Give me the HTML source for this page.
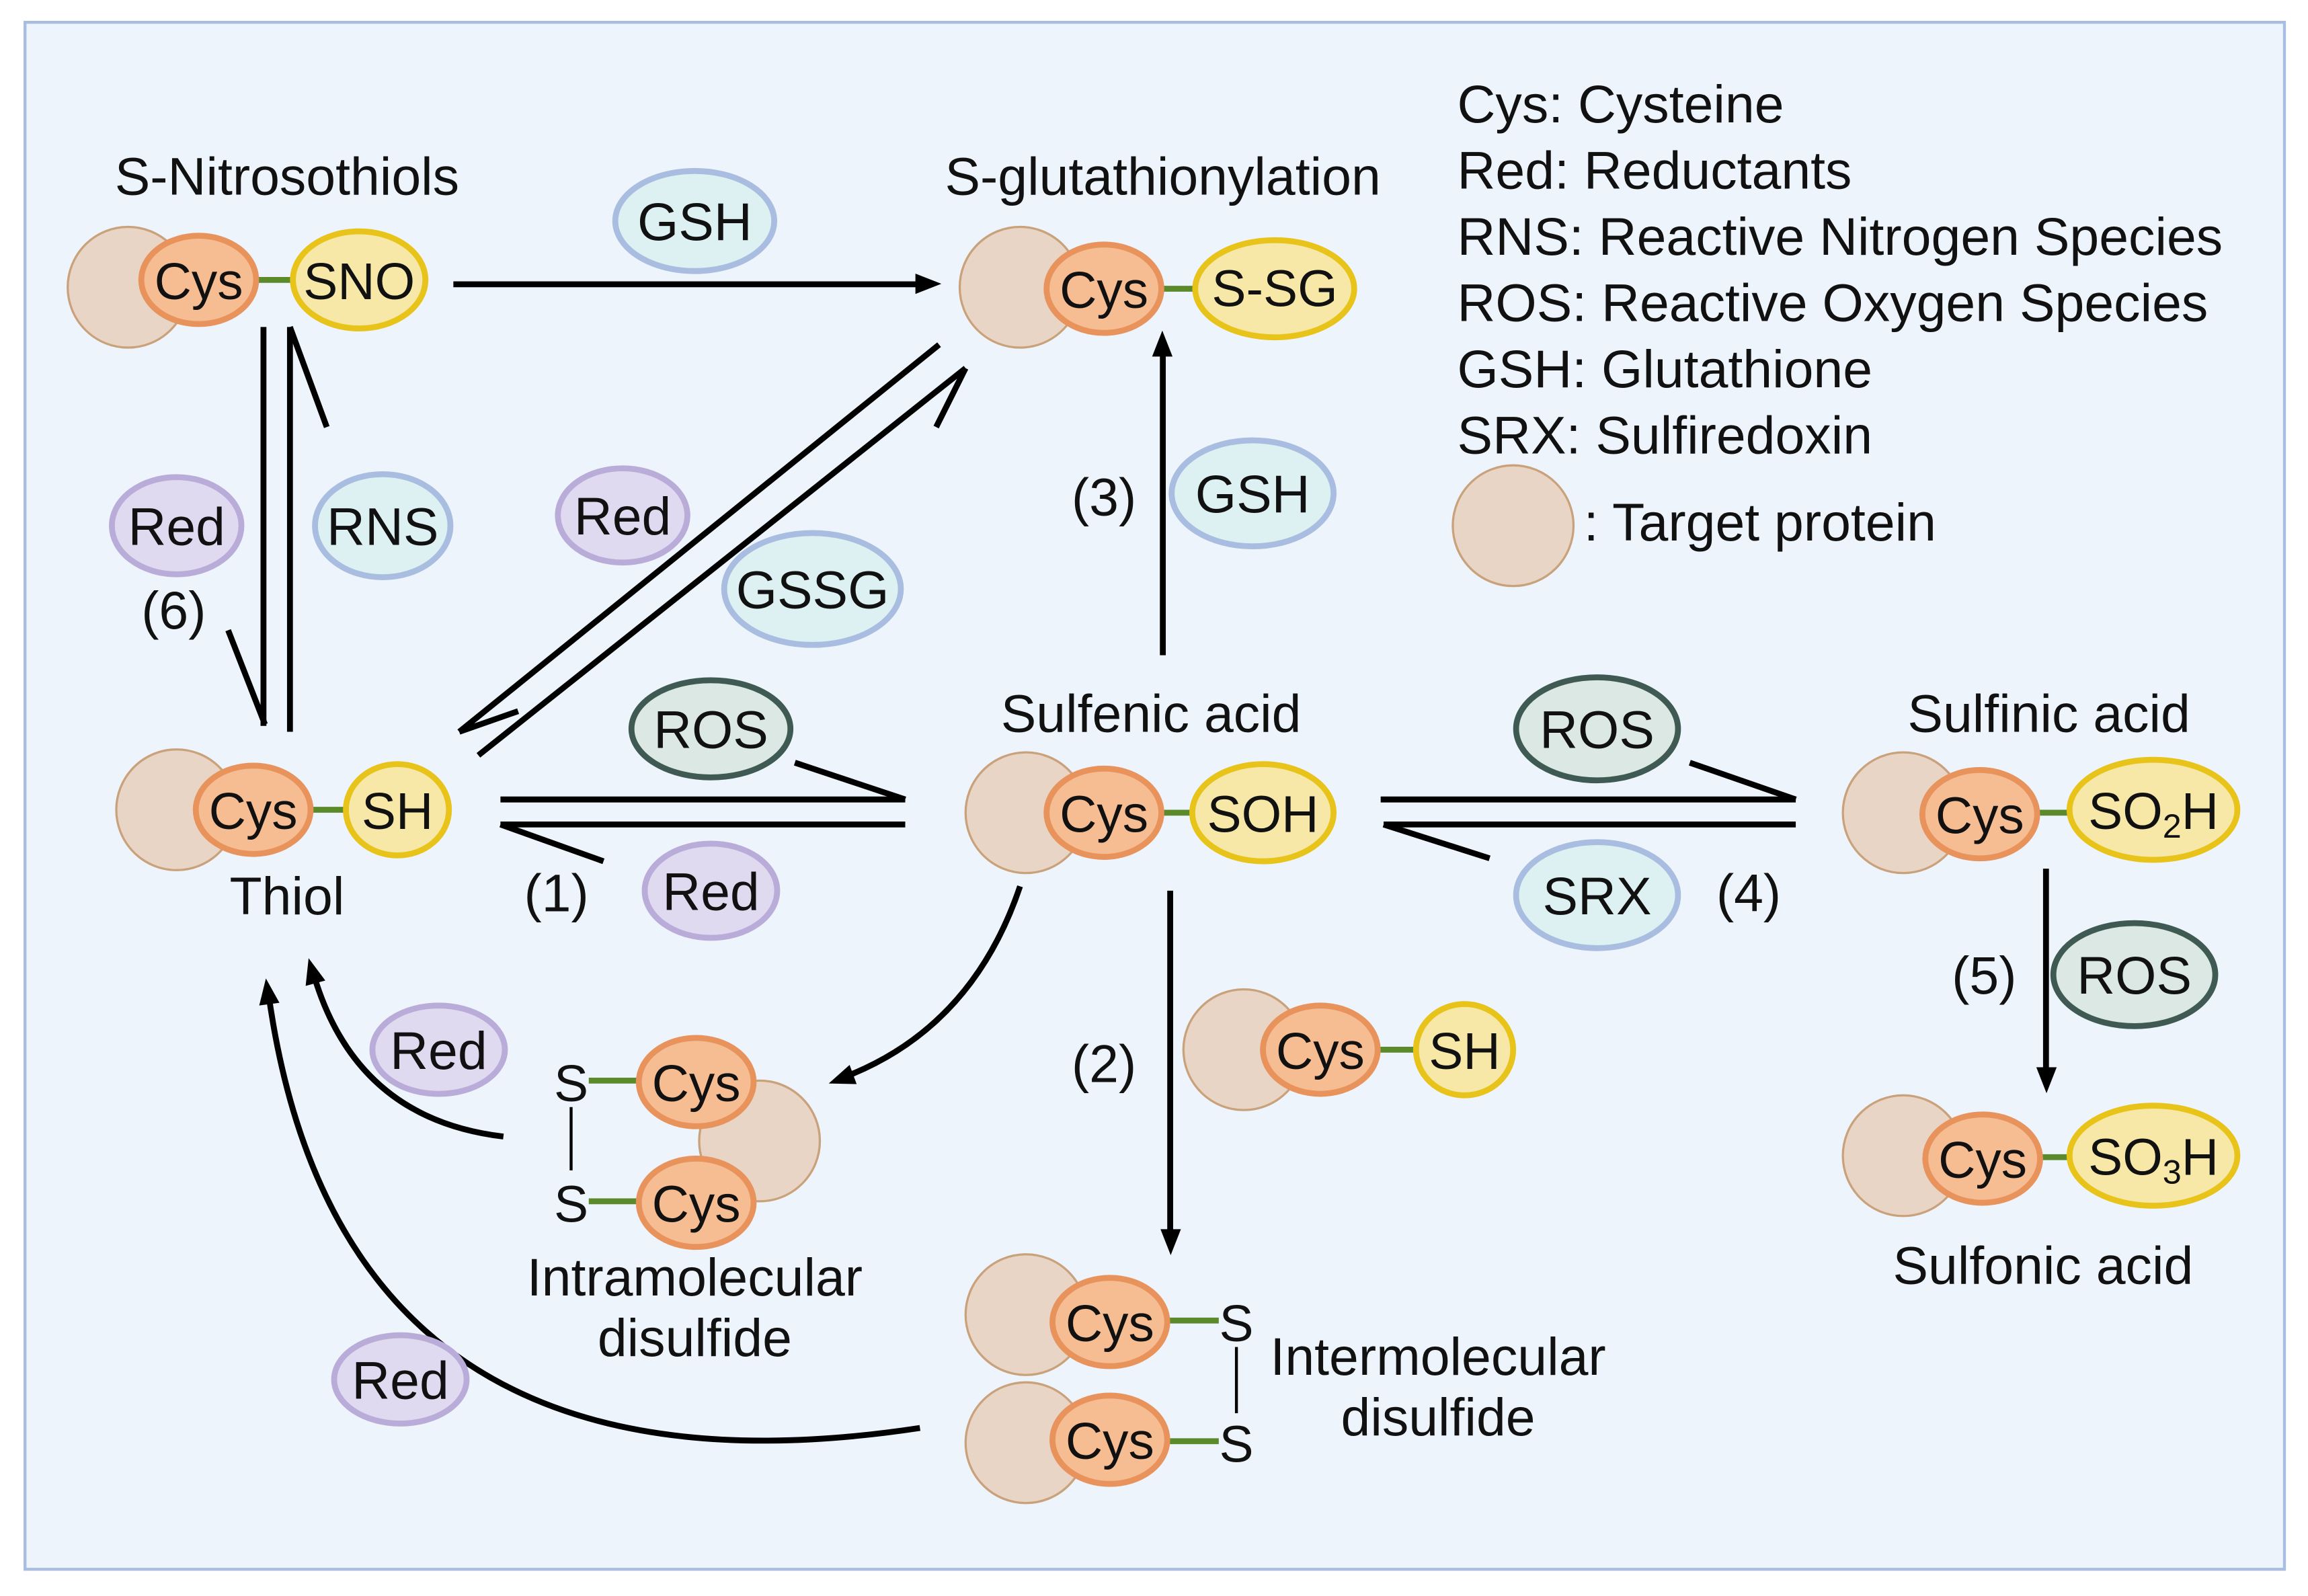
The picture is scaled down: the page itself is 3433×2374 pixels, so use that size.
<!DOCTYPE html>
<html><head><meta charset="utf-8"><style>
html,body{margin:0;padding:0;background:#fff}
svg{display:block}
text{font-family:"Liberation Sans",sans-serif;fill:#111}
</style></head><body>
<svg width="3433" height="2374" viewBox="0 0 1568 1084" xmlns="http://www.w3.org/2000/svg">
<defs>
<marker id="ah" viewBox="0 0 10 10" refX="9" refY="5" markerWidth="7" markerHeight="7" markerUnits="userSpaceOnUse" orient="auto" style="overflow:visible">
<path d="M-6,-6 L22,5 L-6,16 Z" fill="#000" transform="scale(0.9)"/>
</marker>
</defs>
<rect x="0" y="0" width="1568" height="1084" fill="#fff"/>
<rect x="17" y="15" width="1535" height="1051" fill="#edf4fc" stroke="#a9bde0" stroke-width="2"/>

<g font-size="36">
<text x="195" y="132" text-anchor="middle">S-Nitrosothiols</text>
<text x="790" y="132" text-anchor="middle">S-glutathionylation</text>
<text x="195" y="621" text-anchor="middle">Thiol</text>
<text x="782" y="497" text-anchor="middle">Sulfenic acid</text>
<text x="1392" y="497" text-anchor="middle">Sulfinic acid</text>
<text x="1388" y="872" text-anchor="middle">Sulfonic acid</text>
<text x="472" y="880" text-anchor="middle">Intramolecular</text>
<text x="472" y="921" text-anchor="middle">disulfide</text>
<text x="977" y="934" text-anchor="middle">Intermolecular</text>
<text x="977" y="975" text-anchor="middle">disulfide</text>
<text x="990" y="83">Cys: Cysteine</text>
<text x="990" y="128">Red: Reductants</text>
<text x="990" y="173">RNS: Reactive Nitrogen Species</text>
<text x="990" y="218">ROS: Reactive Oxygen Species</text>
<text x="990" y="263">GSH: Glutathione</text>
<text x="990" y="308">SRX: Sulfiredoxin</text>
<text x="1076" y="367">: Target protein</text>
<text x="118" y="427" text-anchor="middle">(6)</text>
<text x="750" y="350" text-anchor="middle">(3)</text>
<text x="378" y="619" text-anchor="middle">(1)</text>
<text x="1188" y="619" text-anchor="middle">(4)</text>
<text x="750" y="735" text-anchor="middle">(2)</text>
<text x="1348" y="675" text-anchor="middle">(5)</text>
</g>
<circle cx="1028" cy="357" r="41" fill="#e8d5c5" stroke="#c9a27c" stroke-width="1.5"/>

<g stroke="#000" stroke-width="4" fill="none">
<line x1="308" y1="193" x2="632" y2="193" marker-end="url(#ah)"/>
<line x1="179" y1="222" x2="179" y2="493"/>
<line x1="155" y1="428" x2="180" y2="492"/>
<line x1="197" y1="497" x2="197" y2="222"/>
<line x1="197" y1="222" x2="222" y2="290"/>
<line x1="325" y1="513" x2="656" y2="250"/>
<line x1="656" y1="250" x2="636" y2="290"/>
<line x1="638" y1="234" x2="312" y2="497"/>
<line x1="312" y1="497" x2="352" y2="483"/>
<line x1="340" y1="543" x2="615" y2="543"/>
<line x1="540" y1="518" x2="615" y2="543"/>
<line x1="615" y1="560" x2="340" y2="560"/>
<line x1="410" y1="585" x2="340" y2="560"/>
<line x1="938" y1="543" x2="1220" y2="543"/>
<line x1="1148" y1="518" x2="1220" y2="543"/>
<line x1="1220" y1="560" x2="940" y2="560"/>
<line x1="1012" y1="583" x2="940" y2="560"/>
<line x1="790" y1="445" x2="790" y2="232" marker-end="url(#ah)"/>
<line x1="795" y1="605" x2="795" y2="845" marker-end="url(#ah)"/>
<line x1="1390" y1="590" x2="1390" y2="735" marker-end="url(#ah)"/>
<path d="M693,602 Q660,700 570,733" marker-end="url(#ah)"/>
<path d="M342,772 Q240,760 212,658" marker-end="url(#ah)"/>
<path d="M625,970 Q230,1030 182,672" marker-end="url(#ah)"/>
</g>

<g stroke-width="4">
<ellipse cx="472" cy="150" rx="54" ry="34" fill="#ddf0f2" stroke="#a9bde0"/>
<ellipse cx="120" cy="357" rx="44" ry="33" fill="#e0daf0" stroke="#b9acd8"/>
<ellipse cx="260" cy="357" rx="46" ry="35" fill="#ddf0f2" stroke="#a9bde0"/>
<ellipse cx="423" cy="350" rx="44" ry="32" fill="#e0daf0" stroke="#b9acd8"/>
<ellipse cx="552" cy="400" rx="60" ry="38" fill="#ddf0f2" stroke="#a9bde0"/>
<ellipse cx="483" cy="495" rx="54" ry="33" fill="#dbe8e3" stroke="#3f5a52"/>
<ellipse cx="483" cy="605" rx="45" ry="32" fill="#e0daf0" stroke="#b9acd8"/>
<ellipse cx="851" cy="335" rx="55" ry="36" fill="#ddf0f2" stroke="#a9bde0"/>
<ellipse cx="1085" cy="495" rx="55" ry="35" fill="#dbe8e3" stroke="#3f5a52"/>
<ellipse cx="1085" cy="608" rx="55" ry="36" fill="#ddf0f2" stroke="#a9bde0"/>
<ellipse cx="1450" cy="662" rx="55" ry="35" fill="#dbe8e3" stroke="#3f5a52"/>
<ellipse cx="298" cy="713" rx="45" ry="30" fill="#e0daf0" stroke="#b9acd8"/>
<ellipse cx="272" cy="937" rx="45" ry="30" fill="#e0daf0" stroke="#b9acd8"/>
</g>
<g font-size="36" text-anchor="middle">
<text x="472" y="163">GSH</text>
<text x="120" y="370">Red</text>
<text x="260" y="370">RNS</text>
<text x="423" y="363">Red</text>
<text x="552" y="413">GSSG</text>
<text x="483" y="508">ROS</text>
<text x="483" y="618">Red</text>
<text x="851" y="348">GSH</text>
<text x="1085" y="508">ROS</text>
<text x="1085" y="621">SRX</text>
<text x="1450" y="675">ROS</text>
<text x="298" y="726">Red</text>
<text x="272" y="950">Red</text>
</g>

<g>
<circle cx="87" cy="195" r="41" fill="#e8d5c5" stroke="#c9a27c" stroke-width="1.5"/>
<line x1="170" y1="190" x2="205" y2="190" stroke="#5a8a2a" stroke-width="4"/>
<ellipse cx="135" cy="190" rx="39" ry="30" fill="#f6bc92" stroke="#e8925c" stroke-width="4"/>
<ellipse cx="244" cy="190" rx="45" ry="33" fill="#f7e8a8" stroke="#e8c31a" stroke-width="4"/>
<circle cx="693" cy="195" r="41" fill="#e8d5c5" stroke="#c9a27c" stroke-width="1.5"/>
<line x1="785" y1="196" x2="820" y2="196" stroke="#5a8a2a" stroke-width="4"/>
<ellipse cx="750" cy="196" rx="39" ry="30" fill="#f6bc92" stroke="#e8925c" stroke-width="4"/>
<ellipse cx="866" cy="196" rx="54" ry="33" fill="#f7e8a8" stroke="#e8c31a" stroke-width="4"/>
<circle cx="120" cy="550" r="41" fill="#e8d5c5" stroke="#c9a27c" stroke-width="1.5"/>
<line x1="205" y1="550" x2="240" y2="550" stroke="#5a8a2a" stroke-width="4"/>
<ellipse cx="172" cy="550" rx="39" ry="30" fill="#f6bc92" stroke="#e8925c" stroke-width="4"/>
<ellipse cx="270" cy="550" rx="35" ry="31" fill="#f7e8a8" stroke="#e8c31a" stroke-width="4"/>
<circle cx="697" cy="552" r="41" fill="#e8d5c5" stroke="#c9a27c" stroke-width="1.5"/>
<line x1="785" y1="552" x2="820" y2="552" stroke="#5a8a2a" stroke-width="4"/>
<ellipse cx="750" cy="552" rx="39" ry="30" fill="#f6bc92" stroke="#e8925c" stroke-width="4"/>
<ellipse cx="858" cy="552" rx="48" ry="33" fill="#f7e8a8" stroke="#e8c31a" stroke-width="4"/>
<circle cx="1293" cy="552" r="41" fill="#e8d5c5" stroke="#c9a27c" stroke-width="1.5"/>
<line x1="1380" y1="552" x2="1410" y2="552" stroke="#5a8a2a" stroke-width="4"/>
<ellipse cx="1345" cy="553" rx="39" ry="30" fill="#f6bc92" stroke="#e8925c" stroke-width="4"/>
<ellipse cx="1463" cy="550" rx="57" ry="34" fill="#f7e8a8" stroke="#e8c31a" stroke-width="4"/>
<circle cx="1293" cy="785" r="41" fill="#e8d5c5" stroke="#c9a27c" stroke-width="1.5"/>
<line x1="1380" y1="786" x2="1410" y2="786" stroke="#5a8a2a" stroke-width="4"/>
<ellipse cx="1347" cy="787" rx="39" ry="30" fill="#f6bc92" stroke="#e8925c" stroke-width="4"/>
<ellipse cx="1463" cy="785" rx="57" ry="34" fill="#f7e8a8" stroke="#e8c31a" stroke-width="4"/>
<circle cx="845" cy="713" r="41" fill="#e8d5c5" stroke="#c9a27c" stroke-width="1.5"/>
<line x1="930" y1="713" x2="965" y2="713" stroke="#5a8a2a" stroke-width="4"/>
<ellipse cx="897" cy="713" rx="39" ry="30" fill="#f6bc92" stroke="#e8925c" stroke-width="4"/>
<ellipse cx="995" cy="713" rx="33" ry="31" fill="#f7e8a8" stroke="#e8c31a" stroke-width="4"/>
<circle cx="516" cy="775" r="41" fill="#e8d5c5" stroke="#c9a27c" stroke-width="1.5"/>
<line x1="400" y1="734" x2="436" y2="734" stroke="#5a8a2a" stroke-width="4"/>
<line x1="400" y1="816" x2="436" y2="816" stroke="#5a8a2a" stroke-width="4"/>
<line x1="388" y1="752" x2="388" y2="795" stroke="#000" stroke-width="2"/>
<ellipse cx="473" cy="735" rx="39" ry="30" fill="#f6bc92" stroke="#e8925c" stroke-width="4"/>
<ellipse cx="473" cy="817" rx="39" ry="30" fill="#f6bc92" stroke="#e8925c" stroke-width="4"/>
<circle cx="697" cy="893" r="41" fill="#e8d5c5" stroke="#c9a27c" stroke-width="1.5"/>
<circle cx="697" cy="980" r="41" fill="#e8d5c5" stroke="#c9a27c" stroke-width="1.5"/>
<line x1="790" y1="897" x2="828" y2="897" stroke="#5a8a2a" stroke-width="4"/>
<line x1="790" y1="979" x2="828" y2="979" stroke="#5a8a2a" stroke-width="4"/>
<line x1="840" y1="915" x2="840" y2="960" stroke="#000" stroke-width="2"/>
<ellipse cx="754" cy="898" rx="39" ry="30" fill="#f6bc92" stroke="#e8925c" stroke-width="4"/>
<ellipse cx="754" cy="978" rx="39" ry="30" fill="#f6bc92" stroke="#e8925c" stroke-width="4"/>
</g>
<g font-size="35" text-anchor="middle">
<text x="135" y="203">Cys</text><text x="244" y="203">SNO</text>
<text x="750" y="209">Cys</text><text x="866" y="208">S-SG</text>
<text x="172" y="563">Cys</text><text x="270" y="563">SH</text>
<text x="750" y="565">Cys</text><text x="858" y="565">SOH</text>
<text x="1345" y="566">Cys</text><text x="1463" y="563">SO<tspan font-size="23" dy="6">2</tspan><tspan dy="-6">H</tspan></text>
<text x="1347" y="800">Cys</text><text x="1463" y="798">SO<tspan font-size="23" dy="6">3</tspan><tspan dy="-6">H</tspan></text>
<text x="897" y="726">Cys</text><text x="995" y="726">SH</text>
<text x="473" y="748">Cys</text><text x="473" y="830">Cys</text>
<text x="388" y="748">S</text><text x="388" y="830">S</text>
<text x="754" y="911">Cys</text><text x="754" y="991">Cys</text>
<text x="840" y="911">S</text><text x="840" y="993">S</text>
</g>
</svg>
</body></html>
